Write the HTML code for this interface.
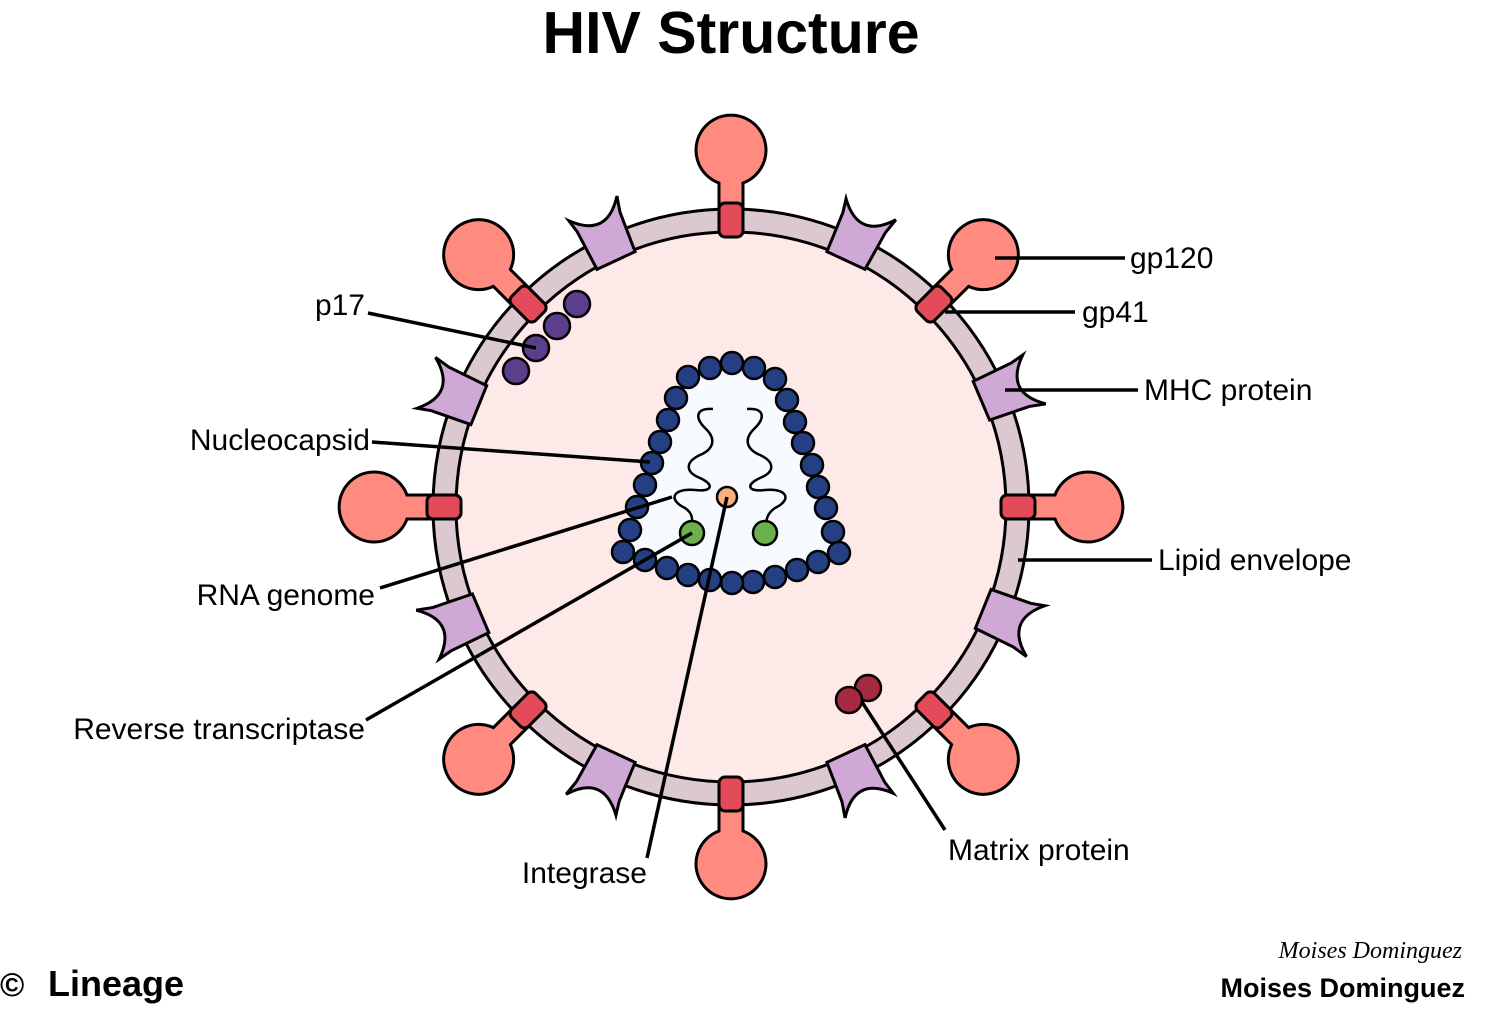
<!DOCTYPE html>
<html><head><meta charset="utf-8"><style>
html,body{margin:0;padding:0;background:#fff;}
svg{display:block;}
text{font-family:"Liberation Sans",Arial,sans-serif;fill:#000;}
</style></head><body>
<svg width="1500" height="1010" viewBox="0 0 1500 1010" xmlns="http://www.w3.org/2000/svg">
<defs>
<g id="gp">
<path d="M -12,-296 L -12,-324 A 35 35 0 1 1 12,-324 L 12,-296 Z" fill="#fe8a80" stroke="#000" stroke-width="3"/>
</g>
<g id="gpr"><rect x="-12" y="-304" width="24" height="34" rx="6" fill="#e34a5a" stroke="#000" stroke-width="3"/></g>
<g id="mhc"><path d="M -21,-272 L 21,-272 L 24,-314 L 28,-330 Q 2,-296 -26,-328 L -23,-314 Z" fill="#cfa8d6" stroke="#000" stroke-width="3" stroke-linejoin="miter"/></g>
</defs>
<text x="731" y="53" text-anchor="middle" font-size="59" font-weight="bold">HIV Structure</text>

<g transform="translate(731,507)">
<g transform="rotate(0)"><use href="#gp"/></g>
<g transform="rotate(45)"><use href="#gp"/></g>
<g transform="rotate(90)"><use href="#gp"/></g>
<g transform="rotate(135)"><use href="#gp"/></g>
<g transform="rotate(180)"><use href="#gp"/></g>
<g transform="rotate(225)"><use href="#gp"/></g>
<g transform="rotate(270)"><use href="#gp"/></g>
<g transform="rotate(315)"><use href="#gp"/></g>
<circle r="298" fill="#dcc8cf" stroke="#000" stroke-width="3"/>
<circle r="275" fill="#fde9e7" stroke="#000" stroke-width="3"/>
<g transform="rotate(0)"><use href="#gpr"/></g>
<g transform="rotate(45)"><use href="#gpr"/></g>
<g transform="rotate(90)"><use href="#gpr"/></g>
<g transform="rotate(135)"><use href="#gpr"/></g>
<g transform="rotate(180)"><use href="#gpr"/></g>
<g transform="rotate(225)"><use href="#gpr"/></g>
<g transform="rotate(270)"><use href="#gpr"/></g>
<g transform="rotate(315)"><use href="#gpr"/></g>
<g transform="rotate(-25)"><use href="#mhc"/></g>
<g transform="rotate(25)"><use href="#mhc"/></g>
<g transform="rotate(-68)"><use href="#mhc"/></g>
<g transform="rotate(67)"><use href="#mhc"/></g>
<g transform="rotate(-113)"><use href="#mhc"/></g>
<g transform="rotate(112)"><use href="#mhc"/></g>
<g transform="rotate(-155)"><use href="#mhc"/></g>
<g transform="rotate(155)"><use href="#mhc"/></g>
</g>

<!-- capsid -->
<polygon points="732,363 754,368 775,379 787,400 795,422 803,443 812,465 818,487 826,508 833,532 839,553 818,562 797,570 775,577 753,582 732,583 710,580 688,575 667,568 645,560 623,552 630,530 637,507 645,485 652,463 660,442 668,420 676,398 688,377 710,368" fill="#f7faff" stroke="#f7faff" stroke-width="8" stroke-linejoin="round"/>
<g fill="#243f82" stroke="#000" stroke-width="2.5">
<circle cx="732" cy="363" r="11"/><circle cx="710" cy="368" r="11"/><circle cx="754" cy="368" r="11"/>
<circle cx="688" cy="377" r="11"/><circle cx="775" cy="379" r="11"/><circle cx="676" cy="398" r="11"/>
<circle cx="787" cy="400" r="11"/><circle cx="668" cy="420" r="11"/><circle cx="795" cy="422" r="11"/>
<circle cx="660" cy="442" r="11"/><circle cx="803" cy="443" r="11"/><circle cx="652" cy="463" r="11"/>
<circle cx="812" cy="465" r="11"/><circle cx="645" cy="485" r="11"/><circle cx="818" cy="487" r="11"/>
<circle cx="637" cy="507" r="11"/><circle cx="826" cy="508" r="11"/><circle cx="630" cy="530" r="11"/>
<circle cx="833" cy="532" r="11"/><circle cx="623" cy="552" r="11"/><circle cx="839" cy="553" r="11"/>
<circle cx="645" cy="560" r="11"/><circle cx="818" cy="562" r="11"/><circle cx="667" cy="568" r="11"/>
<circle cx="797" cy="570" r="11"/><circle cx="688" cy="575" r="11"/><circle cx="775" cy="577" r="11"/>
<circle cx="710" cy="580" r="11"/><circle cx="753" cy="582" r="11"/><circle cx="732" cy="583" r="11"/>
</g>
<g fill="none" stroke="#000" stroke-width="2.5">
<path d="M 713,409 C 695,408 695,418 705,428 C 718,440 712,450 700,455 C 685,462 685,472 700,478 C 715,485 712,492 695,490 C 672,488 668,500 685,508 C 695,515 692,522 690,528"/>
<path d="M 747,409 C 765,408 765,418 755,428 C 742,440 748,450 760,455 C 775,462 775,472 760,478 C 745,485 748,492 765,490 C 788,488 792,500 775,508 C 765,515 767,522 765,528"/>
</g>
<circle cx="727" cy="497" r="10" fill="#f9b07c" stroke="#000" stroke-width="2.5"/>
<circle cx="692" cy="533" r="12" fill="#6ab04f" stroke="#000" stroke-width="2.5"/>
<circle cx="765" cy="533" r="12" fill="#6ab04f" stroke="#000" stroke-width="2.5"/>

<g fill="#5b3f8c" stroke="#000" stroke-width="2.5">
<circle cx="577" cy="304" r="13"/><circle cx="557" cy="326" r="13"/><circle cx="536" cy="348" r="13"/><circle cx="516" cy="371" r="13"/>
</g>
<g fill="#a52a3f" stroke="#000" stroke-width="2.5">
<circle cx="868" cy="688" r="13"/><circle cx="849" cy="700" r="13"/>
</g>

<g stroke="#000" stroke-width="3.5" fill="none">
<line x1="995" y1="258" x2="1125" y2="258"/>
<line x1="945" y1="312" x2="1075" y2="312"/>
<line x1="1005" y1="390" x2="1138" y2="390"/>
<line x1="1018" y1="560" x2="1152" y2="560"/>
<line x1="862" y1="702" x2="945" y2="830"/>
<line x1="727" y1="497" x2="647" y2="858"/>
<line x1="692" y1="533" x2="366" y2="720"/>
<line x1="672" y1="497" x2="380" y2="588"/>
<line x1="650" y1="462" x2="372" y2="442"/>
<line x1="536" y1="348" x2="368" y2="313"/>
</g>
<g font-size="30">
<text x="1130" y="268">gp120</text>
<text x="1082" y="322">gp41</text>
<text x="1144" y="400">MHC protein</text>
<text x="1158" y="570">Lipid envelope</text>
<text x="948" y="860">Matrix protein</text>
<text x="647" y="883" text-anchor="end">Integrase</text>
<text x="365" y="739" text-anchor="end">Reverse transcriptase</text>
<text x="375" y="605" text-anchor="end">RNA genome</text>
<text x="370" y="450" text-anchor="end">Nucleocapsid</text>
<text x="365" y="315" text-anchor="end">p17</text>
</g>
<text x="0" y="996" font-size="33" font-weight="bold">©</text>
<text x="48" y="996" font-size="36" font-weight="bold">Lineage</text>
<text x="1465" y="997" text-anchor="end" font-size="27" font-weight="bold">Moises Dominguez</text>
<text x="1462" y="958" text-anchor="end" font-size="24" font-style="italic" style="font-family:'Liberation Serif',serif">Moises Dominguez</text>
</svg>
</body></html>
